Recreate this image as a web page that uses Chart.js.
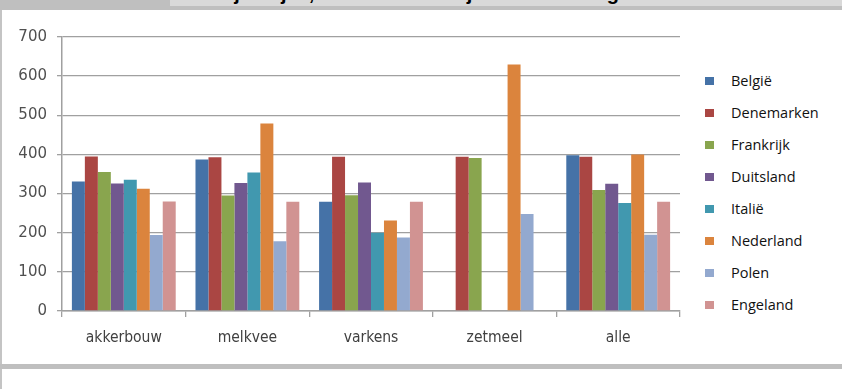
<!DOCTYPE html>
<html>
<head>
<meta charset="utf-8">
<script src="https://cdn.jsdelivr.net/npm/chart.js@4"></script>
<style>
  html, body { margin: 0; padding: 0; width: 842px; height: 389px; overflow: hidden; background: #fff; }
  #topband { position: absolute; left: 0; top: 0; width: 842px; height: 10px; background: #bfbfbf; }
  #titlebox { position: absolute; left: 170px; top: 0; width: 672px; height: 6px; background: #d9d9d9; overflow: hidden; }
  #titlebox span { position: absolute; left: -9px; top: -17px; font: bold 20px/20px "Liberation Sans", Arial, sans-serif; color: #000; white-space: nowrap; }
  #leftline { position: absolute; left: 0; top: 10px; width: 2px; height: 379px; background: #c4c4c4; }
  #bottomband { position: absolute; left: 0; top: 364px; width: 842px; height: 5px; background: #bfbfbf; }
  #chartbox { position: absolute; left: 0; top: 10px; width: 700px; height: 354px; }
  #legend { position: absolute; left: 705px; top: 0; }
  .item { position: absolute; left: 0; width: 130px; height: 20px; }
  .item i { position: absolute; left: 0; top: 6px; width: 9px; height: 8px; }
  .item b { position: absolute; left: 26px; top: 0; font: normal 14.5px/20px "Open Sans", sans-serif; color: #111; white-space: nowrap; }
</style>
</head>
<body>
<div id="topband"></div>
<div id="titlebox"><span>Kosten jaarlijks, in een normaal jaar met toeslag.</span></div>
<div id="leftline"></div>
<div id="bottomband"></div>
<div id="chartbox"><canvas id="c" width="700" height="354"></canvas></div>
<div id="legend"></div>
<script>
// Sectors on the x axis
const categories = ['akkerbouw', 'melkvee', 'varkens', 'zetmeel', 'alle'];

// Countries and their bar colours
const countries = ['België', 'Denemarken', 'Frankrijk', 'Duitsland', 'Italië', 'Nederland', 'Polen', 'Engeland'];
const colors = ['#4572A7', '#AA4643', '#89A54E', '#71588F', '#4198AF', '#DB843D', '#93A9CF', '#D19392'];

// Values per country, one per sector (null = no bar)
const belgie     = [331, 387, 279, null, 398];
const denemarken = [395, 393, 394, 394, 394];
const frankrijk  = [355, 295, 296, 391, 309];
const duitsland  = [326, 327, 328, null, 325];
const italie     = [335, 354, 200, null, 276];
const nederland  = [312, 479, 231, 630, 400];
const polen      = [194, 178, 188, 248, 195];
const engeland   = [280, 279, 279, null, 279];

// Y axis range and step
const yTicks = [0, 100, 200, 300, 400, 500, 600, 700];

const seriesValues = [belgie, denemarken, frankrijk, duitsland, italie, nederland, polen, engeland];

const datasets = countries.map((name, i) => ({
  label: name,
  data: seriesValues[i],
  backgroundColor: colors[i],
  borderWidth: 0,
  categoryPercentage: 0.84,
  barPercentage: 1.0
}));

const gridColor = '#a0a0a0';

new Chart(document.getElementById('c'), {
  type: 'bar',
  data: { labels: categories, datasets },
  options: {
    responsive: false,
    animation: false,
    layout: { padding: { top: 27, right: 20, left: 0, bottom: 0 } },
    plugins: { legend: { display: false }, tooltip: { enabled: false } },
    scales: {
      x: {
        grid: { drawOnChartArea: false, color: gridColor, lineWidth: 1.3, tickLength: 6 },
        border: { color: gridColor, width: 1.5 },
        ticks: { font: { family: '"DejaVu Sans Condensed", "Liberation Sans", sans-serif', size: 15.5 }, color: '#404040', padding: 12 },
        afterFit: (s) => { s.height = 53; }
      },
      y: {
        min: yTicks[0],
        max: yTicks[yTicks.length - 1],
        ticks: { stepSize: yTicks[1] - yTicks[0], font: { family: '"DejaVu Sans", sans-serif', size: 15 }, color: '#505050', padding: 10 },
        grid: { color: gridColor, lineWidth: 1.3, tickLength: 5 },
        border: { color: gridColor, width: 1.5 },
        afterFit: (s) => { s.width = 62; }
      }
    }
  }
});

// Legend column to the right of the plot
const legend = document.getElementById('legend');
countries.forEach((name, i) => {
  const d = document.createElement('div');
  d.className = 'item';
  d.style.top = (71 + 32 * i) + 'px';
  const sw = document.createElement('i');
  sw.style.background = colors[i];
  const t = document.createElement('b');
  t.textContent = name;
  d.appendChild(sw);
  d.appendChild(t);
  legend.appendChild(d);
});
</script>
</body>
</html>
